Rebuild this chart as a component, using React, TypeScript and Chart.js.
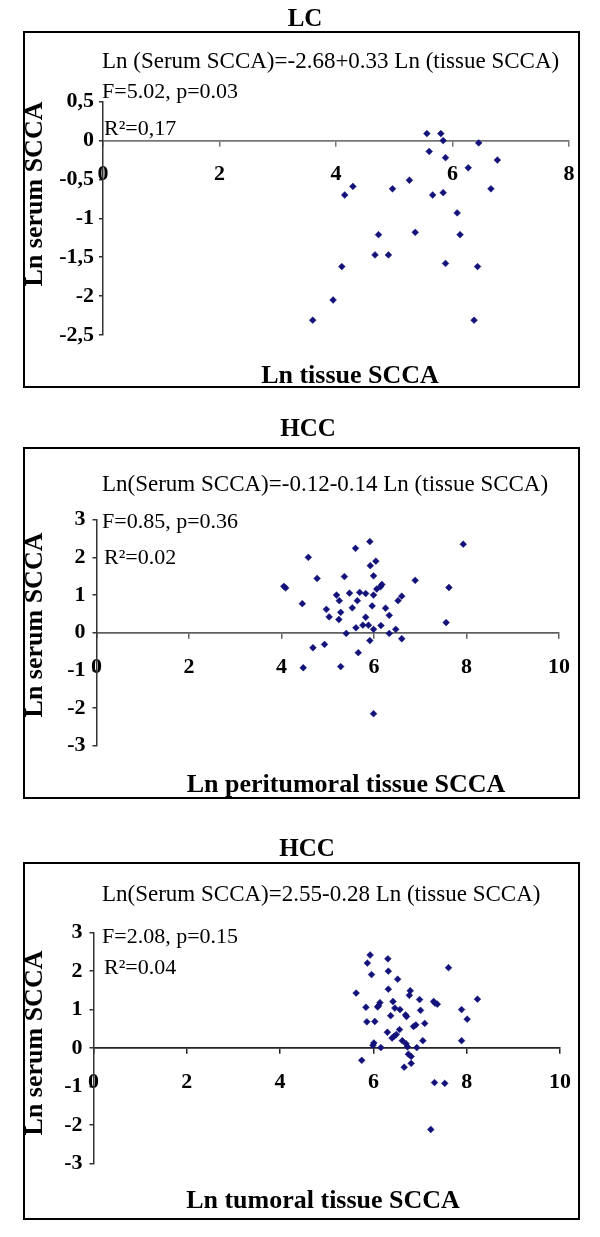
import React, { useEffect, useRef } from 'react';
import { Chart, registerables } from 'chart.js';

Chart.register(...registerables);

// ---------- data ----------
const LC_TISSUE = [5.56, 5.8, 5.84, 6.45, 5.6, 5.88, 6.77, 6.27, 5.26, 4.29, 4.97, 6.66, 4.15, 5.66, 5.84, 6.08, 4.73, 5.36, 6.13, 4.67, 4.9, 4.1, 5.88, 6.43, 3.95, 3.6, 6.37];
const LC_SERUM = [0.09, 0.09, 0.0, -0.03, -0.14, -0.22, -0.25, -0.35, -0.51, -0.59, -0.62, -0.62, -0.7, -0.7, -0.67, -0.93, -1.21, -1.18, -1.21, -1.47, -1.47, -1.62, -1.58, -1.62, -2.05, -2.31, -2.31];

const PERI_TISSUE = [5.91, 7.93, 5.6, 4.58, 6.04, 5.92, 5.99, 5.36, 4.77, 6.89, 4.05, 4.09, 7.62, 6.17, 6.14, 6.06, 5.47, 5.69, 5.82, 5.99, 5.19, 6.6, 6.52, 5.25, 5.64, 4.45, 5.96, 5.53, 4.97, 5.28, 6.25, 6.33, 5.03, 5.24, 5.82, 5.76, 5.88, 5.61, 5.99, 6.15, 7.56, 5.4, 6.33, 6.47, 6.6, 5.91, 4.93, 4.68, 5.66, 4.47, 5.28, 5.99];
const PERI_SERUM = [2.42, 2.35, 2.24, 2.0, 1.9, 1.78, 1.51, 1.49, 1.44, 1.39, 1.23, 1.19, 1.2, 1.28, 1.22, 1.16, 1.05, 1.07, 1.04, 1.0, 1.0, 0.97, 0.85, 0.85, 0.85, 0.77, 0.71, 0.66, 0.62, 0.54, 0.65, 0.46, 0.42, 0.35, 0.41, 0.2, 0.2, 0.13, 0.09, 0.19, 0.27, -0.02, -0.02, 0.09, -0.16, -0.21, -0.31, -0.4, -0.53, -0.93, -0.9, -2.15];

const TUM_TISSUE = [5.93, 6.31, 5.87, 7.61, 6.32, 5.96, 6.52, 6.32, 5.63, 6.79, 6.77, 6.99, 8.23, 6.42, 6.14, 6.11, 6.09, 7.29, 7.32, 7.37, 5.84, 6.46, 6.57, 7.01, 7.89, 6.37, 6.69, 6.71, 8.01, 5.86, 6.03, 6.91, 6.86, 7.1, 6.56, 6.3, 6.49, 6.44, 6.4, 6.62, 6.01, 5.99, 7.06, 7.89, 6.7, 6.73, 6.16, 6.93, 6.75, 6.81, 5.75, 6.81, 6.66, 7.31, 7.53, 7.23];
const TUM_SERUM = [2.42, 2.32, 2.21, 2.09, 2.0, 1.91, 1.79, 1.53, 1.43, 1.49, 1.37, 1.26, 1.27, 1.21, 1.18, 1.1, 1.07, 1.21, 1.17, 1.14, 1.06, 1.04, 1.0, 0.98, 1.0, 0.84, 0.86, 0.82, 0.75, 0.68, 0.69, 0.6, 0.56, 0.64, 0.48, 0.41, 0.35, 0.3, 0.26, 0.19, 0.13, 0.07, 0.19, 0.19, 0.11, 0.03, 0.01, 0.01, -0.16, -0.22, -0.32, -0.4, -0.5, -0.9, -0.92, -2.12];

const LC_X_TICKS = [0, 2, 4, 6, 8];
const LC_Y_TICKS = [0.5, 0, -0.5, -1, -1.5, -2, -2.5];
const HCC_X_TICKS = [0, 2, 4, 6, 8, 10];
const HCC_Y_TICKS = [3, 2, 1, 0, -1, -2, -3];

const SERIF = "'Liberation Serif', 'Times New Roman', serif";
const POINT_COLOR = '#12127a';

type Panel = {
  canvasTop: number;
  canvasH: number;
  box: { l: number; t: number; r: number; b: number };
  title: string;
  titleX: number;
  titleY: number;
  plot: { l: number; r: number; t: number; b: number };
  xTicks: number[];
  yTicks: number[];
  comma: boolean;
  eq: string;
  eqY: number;
  f: string;
  fY: number;
  r2: string;
  r2Y: number;
  xTitle: string;
  xTitleX: number;
  xTitleY: number;
  yTitleY: number;
  xs: number[];
  ys: number[];
  zeroColor: string;
};

const PANELS: Panel[] = [
  {
    canvasTop: 0, canvasH: 400,
    box: { l: 24, t: 32, r: 579, b: 387 },
    title: 'LC', titleX: 305, titleY: 20,
    plot: { l: 103, r: 569, t: 101.7, b: 335 },
    xTicks: LC_X_TICKS, yTicks: LC_Y_TICKS, comma: true,
    eq: 'Ln (Serum SCCA)=-2.68+0.33 Ln (tissue SCCA)', eqY: 62,
    f: 'F=5.02, p=0.03', fY: 92,
    r2: 'R\u00B2=0,17', r2Y: 129,
    xTitle: 'Ln tissue SCCA', xTitleX: 350, xTitleY: 383,
    yTitleY: 194,
    xs: LC_TISSUE, ys: LC_SERUM, zeroColor: '#767676',
  },
  {
    canvasTop: 405, canvasH: 400,
    box: { l: 24, t: 448, r: 579, b: 798 },
    title: 'HCC', titleX: 308, titleY: 430,
    plot: { l: 96.5, r: 559, t: 519.7, b: 745.7 },
    xTicks: HCC_X_TICKS, yTicks: HCC_Y_TICKS, comma: false,
    eq: 'Ln(Serum SCCA)=-0.12-0.14 Ln (tissue SCCA)', eqY: 485,
    f: 'F=0.85, p=0.36', fY: 522,
    r2: 'R\u00B2=0.02', r2Y: 558,
    xTitle: 'Ln peritumoral tissue SCCA', xTitleX: 346, xTitleY: 792,
    yTitleY: 625,
    xs: PERI_TISSUE, ys: PERI_SERUM, zeroColor: '#606060',
  },
  {
    canvasTop: 830, canvasH: 400,
    box: { l: 24, t: 863, r: 579, b: 1219 },
    title: 'HCC', titleX: 307, titleY: 850,
    plot: { l: 93.5, r: 560, t: 932.7, b: 1163.3 },
    xTicks: HCC_X_TICKS, yTicks: HCC_Y_TICKS, comma: false,
    eq: 'Ln(Serum SCCA)=2.55-0.28 Ln (tissue SCCA)', eqY: 895,
    f: 'F=2.08, p=0.15', fY: 937,
    r2: 'R\u00B2=0.04', r2Y: 968,
    xTitle: 'Ln tumoral tissue SCCA', xTitleX: 323, xTitleY: 1208,
    yTitleY: 1043,
    xs: TUM_TISSUE, ys: TUM_SERUM, zeroColor: '#222222',
  },
];

function PanelChart({ p }: { p: Panel }) {
  const ref = useRef<HTMLCanvasElement | null>(null);
  useEffect(() => {
    if (!ref.current) return;
    const top = p.canvasTop;
    const decor = {
      id: 'decor',
      afterDraw(chart: any) {
        const ctx = chart.ctx as CanvasRenderingContext2D;
        ctx.save();
        ctx.translate(0, -top);
        // frame
        ctx.strokeStyle = '#000';
        ctx.lineWidth = 2;
        ctx.strokeRect(p.box.l, p.box.t, p.box.r - p.box.l, p.box.b - p.box.t);
        ctx.fillStyle = '#000';
        // title
        ctx.font = `bold 25px ${SERIF}`;
        ctx.textAlign = 'center';
        ctx.textBaseline = 'middle';
        ctx.fillText(p.title, p.titleX, p.titleY);
        // equation & stats
        ctx.textAlign = 'left';
        ctx.font = `23px ${SERIF}`;
        ctx.fillText(p.eq, 102, p.eqY);
        ctx.font = `22px ${SERIF}`;
        ctx.fillText(p.f, 102, p.fY);
        ctx.fillText(p.r2, 104, p.r2Y);
        // axis titles
        ctx.font = `bold 26px ${SERIF}`;
        ctx.textAlign = 'center';
        ctx.textBaseline = 'alphabetic';
        ctx.fillText(p.xTitle, p.xTitleX, p.xTitleY);
        ctx.save();
        ctx.translate(42, p.yTitleY);
        ctx.rotate(-Math.PI / 2);
        ctx.fillText('Ln serum SCCA', 0, 0);
        ctx.restore();
        ctx.restore();
      },
    };
    const yMin = Math.min(...p.yTicks);
    const yMax = Math.max(...p.yTicks);
    const xMax = Math.max(...p.xTicks);
    const chart = new Chart(ref.current, {
      type: 'scatter',
      data: {
        datasets: [
          {
            data: p.xs.map((x, i) => ({ x, y: p.ys[i] })),
            pointStyle: 'rectRot',
            pointRadius: 3.4,
            pointHoverRadius: 3.4,
            pointBackgroundColor: POINT_COLOR,
            pointBorderColor: POINT_COLOR,
            pointBorderWidth: 0.5,
          },
        ],
      },
      options: {
        animation: false,
        responsive: false,
        devicePixelRatio: 1,
        events: [],
        layout: {
          padding: {
            left: 0,
            top: p.plot.t - top,
            right: 600 - p.plot.r,
            bottom: p.canvasH - (p.plot.b - top),
          },
        },
        plugins: {
          legend: { display: false },
          tooltip: { enabled: false },
          title: { display: false },
        },
        scales: {
          x: {
            type: 'linear',
            min: 0,
            max: xMax,
            position: { y: 0 } as any,
            afterBuildTicks: (s: any) => {
              s.ticks = p.xTicks.map((v) => ({ value: v }));
            },
            afterFit: (s: any) => {
              s.paddingLeft = 0;
              s.paddingRight = 0;
            },
            grid: {
              drawOnChartArea: false,
              drawTicks: true,
              tickLength: 5,
              color: p.zeroColor,
              lineWidth: 1.5,
            },
            border: { display: true, color: p.zeroColor, width: 1.8 },
            ticks: {
              autoSkip: false,
              maxRotation: 0,
              padding: 16,
              color: '#000',
              font: { family: SERIF, size: 22, weight: 'bold' },
              callback: (v: any) => String(v),
            },
          },
          y: {
            type: 'linear',
            min: yMin,
            max: yMax,
            position: 'left',
            afterBuildTicks: (s: any) => {
              s.ticks = p.yTicks.map((v) => ({ value: v }));
            },
            afterFit: (s: any) => {
              s.width = p.plot.l;
              s.paddingTop = 0;
              s.paddingBottom = 0;
            },
            grid: {
              drawOnChartArea: false,
              drawTicks: true,
              tickLength: 4,
              color: '#333',
              lineWidth: 1.5,
            },
            border: { display: true, color: '#333', width: 1.5 },
            ticks: {
              autoSkip: false,
              padding: p.comma ? 5 : 7,
              color: '#000',
              font: { family: SERIF, size: 22, weight: 'bold' },
              callback: (v: any) => (p.comma ? String(v).replace('.', ',') : String(v)),
            },
          },
        },
      },
      plugins: [decor],
    } as any);
    return () => chart.destroy();
  }, [p]);
  return (
    <canvas
      ref={ref}
      width={600}
      height={p.canvasH}
      style={{ position: 'absolute', left: 0, top: p.canvasTop, width: 600, height: p.canvasH }}
    />
  );
}

export default function App() {
  return (
    <div style={{ position: 'absolute', left: 0, top: 0, width: 600, height: 1237, background: '#fff', overflow: 'hidden' }}>
      {PANELS.map((p, i) => (
        <PanelChart key={i} p={p} />
      ))}
    </div>
  );
}
